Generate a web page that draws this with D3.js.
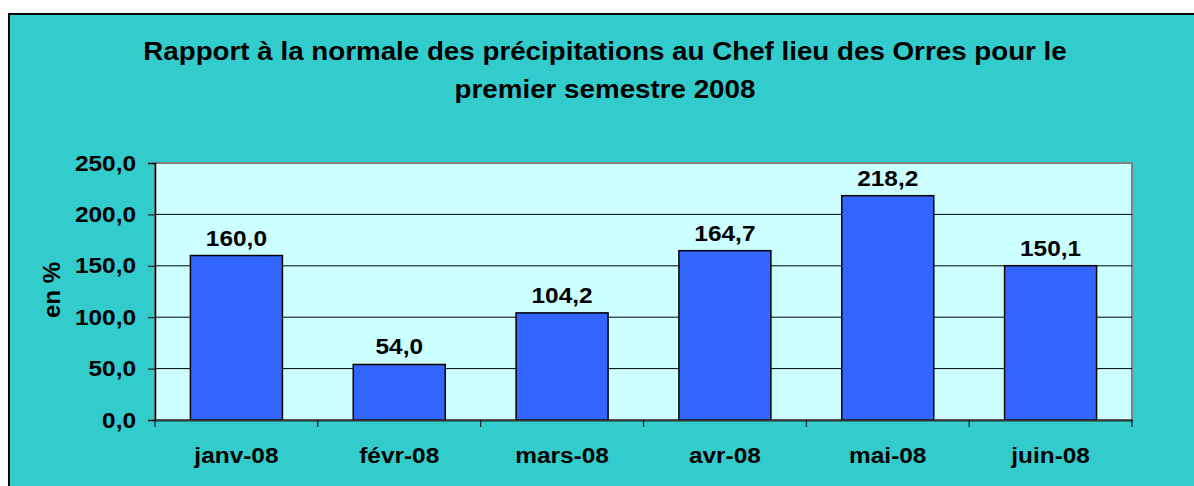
<!DOCTYPE html>
<html lang="fr">
<head>
<meta charset="UTF-8">
<title>Rapport à la normale des précipitations</title>
<script src="https://cdn.jsdelivr.net/npm/d3@7"></script>
<style>
	body {
		margin: 0;
		background: #ffffff;
		font-family: "Liberation Sans", Arial, sans-serif;
	}
	.tick text {
		font-size: 22px;
		font-weight: bold;
		fill: #000;
	}
</style>
</head>
<body>
<div id="chart"></div>
<script>
	// values
	var months = ['janv-08', 'févr-08', 'mars-08', 'avr-08', 'mai-08', 'juin-08'];
	var ratios = [160.0, 54.0, 104.2, 164.7, 218.2, 150.1];
	var yTicks = [0, 50, 100, 150, 200, 250];
	var titleLines = ['Rapport à la normale des précipitations au Chef lieu des Orres pour le',
		'premier semestre 2008'];

	var W = 1194, H = 486;
	var margin = {top: 163, right: 62, bottom: 66, left: 155};
	var width = W - margin.left - margin.right;
	var height = H - margin.top - margin.bottom;
	var stretch = 1.11; // the original text is a bit wider than plain Arial

	var fmt = function (v) { return d3.format('.1f')(v).replace('.', ','); };

	var svg = d3.select('#chart').append('svg')
		.attr('width', W)
		.attr('height', H);

	// outer chart area
	svg.append('rect')
		.attr('x', 9).attr('y', 14)
		.attr('width', W).attr('height', H)
		.attr('fill', '#33CCCC')
		.attr('stroke', '#000')
		.attr('stroke-width', 2);

	svg.selectAll('.title')
		.data(titleLines)
		.enter().append('text')
		.attr('class', 'title')
		.attr('transform', function (d, i) {
			return 'translate(605,' + (60 + i * 38) + ') scale(' + stretch + ',1)';
		})
		.attr('text-anchor', 'middle')
		.style('font-size', '25px')
		.style('font-weight', 'bold')
		.text(function (d) { return d; });

	var g = svg.append('g')
		.attr('transform', 'translate(' + margin.left + ',' + margin.top + ')');

	var x = d3.scaleBand()
		.domain(months)
		.range([0, width])
		.paddingInner(0.435)
		.paddingOuter(0.2175);

	var y = d3.scaleLinear()
		.domain([0, 250])
		.range([height, 0]);

	g.append('rect')
		.attr('width', width)
		.attr('height', height)
		.attr('fill', '#CCFFFF')
		.attr('stroke', '#808080')
		.attr('stroke-width', 2);

	g.selectAll('.grid')
		.data(yTicks.slice(1, -1))
		.enter().append('line')
		.attr('class', 'grid')
		.attr('x1', 0).attr('x2', width)
		.attr('y1', function (d) { return y(d); })
		.attr('y2', function (d) { return y(d); })
		.attr('stroke', '#000')
		.attr('stroke-width', 1);

	g.selectAll('.bar')
		.data(ratios)
		.enter().append('rect')
		.attr('class', 'bar')
		.attr('x', function (d, i) { return x(months[i]); })
		.attr('y', function (d) { return y(d); })
		.attr('width', x.bandwidth())
		.attr('height', function (d) { return height - y(d); })
		.attr('fill', '#3366FF')
		.attr('stroke', '#000')
		.attr('stroke-width', 1.5);

	g.selectAll('.val')
		.data(ratios)
		.enter().append('text')
		.attr('class', 'val')
		.attr('transform', function (d, i) {
			return 'translate(' + (x(months[i]) + x.bandwidth() / 2) + ',' + (y(d) - 10) + ') scale(' + stretch + ',1)';
		})
		.attr('text-anchor', 'middle')
		.style('font-size', '22px')
		.style('font-weight', 'bold')
		.text(fmt);

	var yAxis = g.append('g')
		.call(d3.axisLeft(y).tickValues(yTicks).tickFormat(fmt).tickSize(7).tickPadding(12));
	yAxis.select('.domain').attr('stroke', '#000').attr('stroke-width', 1.5);
	yAxis.selectAll('.tick text')
		.attr('x', 0)
		.attr('transform', 'translate(-19,0) scale(' + stretch + ',1)');

	// x axis: ticks sit on category boundaries
	var xAxis = g.append('g')
		.attr('transform', 'translate(0,' + height + ')')
		.call(d3.axisBottom(x).tickSize(0));
	xAxis.select('.domain').attr('stroke', '#333').attr('stroke-width', 2);
	xAxis.selectAll('.tick text')
		.attr('y', 0).attr('dy', 0)
		.attr('transform', 'translate(0,43) scale(' + stretch + ',1)');

	var step = x.step();
	var bounds = d3.range(months.length + 1).map(function (i) { return i * step; });
	xAxis.selectAll('.bound')
		.data(bounds)
		.enter().append('line')
		.attr('class', 'bound')
		.attr('x1', function (d) { return d; })
		.attr('x2', function (d) { return d; })
		.attr('y1', 0).attr('y2', 7)
		.attr('stroke', '#000');

	svg.append('text')
		.attr('transform', 'translate(60,290) rotate(-90)')
		.attr('text-anchor', 'middle')
		.style('font-size', '24px')
		.style('font-weight', 'bold')
		.text('en %');
</script>
</body>
</html>
